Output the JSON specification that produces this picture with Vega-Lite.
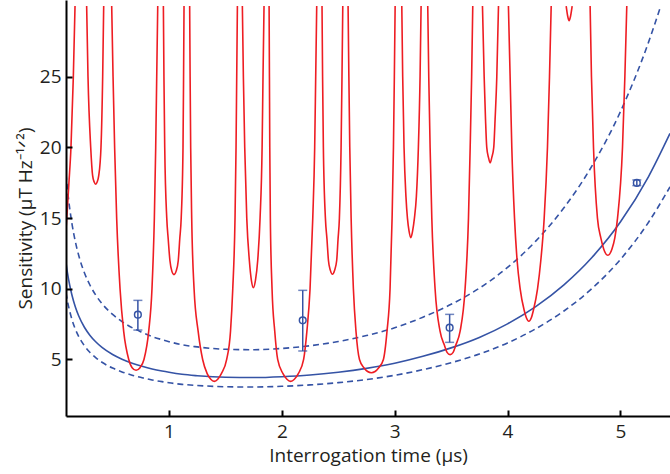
{
  "$schema": "https://vega.github.io/schema/vega-lite/v6.json",
  "width": 604,
  "height": 416,
  "autosize": {"type": "none"},
  "padding": {"left": 66, "top": 0, "right": 0, "bottom": 58},
  "background": "white",
  "config": {
    "view": {"stroke": null},
    "axis": {
      "grid": false,
      "domainColor": "black",
      "domainWidth": 2,
      "ticks": true,
      "tickColor": "black",
      "tickOpacity": 1,
      "tickWidth": 2,
      "tickSize": -6,
      "labelFont": "Open Sans",
      "labelFontSize": 19,
      "labelColor": "#231f20",
      "titleFont": "Open Sans",
      "titleFontSize": 19,
      "titleFontWeight": "normal",
      "titleColor": "#231f20"
    }
  },
  "datasets": {
    "red": [
      {"seg": 0, "t": 0.088, "s": 14.3}, {"seg": 0, "t": 0.098, "s": 15.5}, {"seg": 0, "t": 0.113, "s": 17.5}, {"seg": 0, "t": 0.131, "s": 20}, {"seg": 0, "t": 0.152, "s": 25}, {"seg": 0, "t": 0.167, "s": 30},
      {"seg": 1, "t": 0.270, "s": 30}, {"seg": 1, "t": 0.282, "s": 25}, {"seg": 1, "t": 0.306, "s": 20}, {"seg": 1, "t": 0.323, "s": 18}, {"seg": 1, "t": 0.337, "s": 17.55}, {"seg": 1, "t": 0.350, "s": 17.4}, {"seg": 1, "t": 0.363, "s": 17.55}, {"seg": 1, "t": 0.377, "s": 18}, {"seg": 1, "t": 0.397, "s": 20}, {"seg": 1, "t": 0.412, "s": 25}, {"seg": 1, "t": 0.421, "s": 30},
      {"seg": 2, "t": 0.492, "s": 30}, {"seg": 2, "t": 0.504, "s": 25}, {"seg": 2, "t": 0.518, "s": 20}, {"seg": 2, "t": 0.536, "s": 15}, {"seg": 2, "t": 0.566, "s": 10}, {"seg": 2, "t": 0.598, "s": 7}, {"seg": 2, "t": 0.643, "s": 5}, {"seg": 2, "t": 0.673, "s": 4.42}, {"seg": 2, "t": 0.708, "s": 4.24}, {"seg": 2, "t": 0.743, "s": 4.42}, {"seg": 2, "t": 0.778, "s": 5}, {"seg": 2, "t": 0.820, "s": 7}, {"seg": 2, "t": 0.849, "s": 10}, {"seg": 2, "t": 0.870, "s": 15}, {"seg": 2, "t": 0.882, "s": 20}, {"seg": 2, "t": 0.891, "s": 25}, {"seg": 2, "t": 0.900, "s": 30},
      {"seg": 3, "t": 0.950, "s": 30}, {"seg": 3, "t": 0.955, "s": 25}, {"seg": 3, "t": 0.962, "s": 20}, {"seg": 3, "t": 0.980, "s": 15}, {"seg": 3, "t": 0.993, "s": 13.5}, {"seg": 3, "t": 1.008, "s": 12}, {"seg": 3, "t": 1.025, "s": 11.25}, {"seg": 3, "t": 1.044, "s": 11.0}, {"seg": 3, "t": 1.063, "s": 11.25}, {"seg": 3, "t": 1.082, "s": 12}, {"seg": 3, "t": 1.095, "s": 13.5}, {"seg": 3, "t": 1.108, "s": 15}, {"seg": 3, "t": 1.124, "s": 20}, {"seg": 3, "t": 1.129, "s": 25}, {"seg": 3, "t": 1.133, "s": 30},
      {"seg": 4, "t": 1.183, "s": 30}, {"seg": 4, "t": 1.187, "s": 25}, {"seg": 4, "t": 1.192, "s": 20}, {"seg": 4, "t": 1.201, "s": 15}, {"seg": 4, "t": 1.222, "s": 10}, {"seg": 4, "t": 1.258, "s": 7}, {"seg": 4, "t": 1.298, "s": 5}, {"seg": 4, "t": 1.338, "s": 4.0}, {"seg": 4, "t": 1.370, "s": 3.6}, {"seg": 4, "t": 1.401, "s": 3.45}, {"seg": 4, "t": 1.432, "s": 3.6}, {"seg": 4, "t": 1.464, "s": 4.0}, {"seg": 4, "t": 1.511, "s": 5}, {"seg": 4, "t": 1.545, "s": 7}, {"seg": 4, "t": 1.565, "s": 10}, {"seg": 4, "t": 1.585, "s": 15}, {"seg": 4, "t": 1.594, "s": 20}, {"seg": 4, "t": 1.600, "s": 25}, {"seg": 4, "t": 1.606, "s": 30},
      {"seg": 5, "t": 1.650, "s": 30}, {"seg": 5, "t": 1.659, "s": 25}, {"seg": 5, "t": 1.671, "s": 20}, {"seg": 5, "t": 1.689, "s": 15}, {"seg": 5, "t": 1.712, "s": 12}, {"seg": 5, "t": 1.730, "s": 10.6}, {"seg": 5, "t": 1.748, "s": 10.08}, {"seg": 5, "t": 1.766, "s": 10.6}, {"seg": 5, "t": 1.786, "s": 12}, {"seg": 5, "t": 1.807, "s": 15}, {"seg": 5, "t": 1.825, "s": 20}, {"seg": 5, "t": 1.833, "s": 25}, {"seg": 5, "t": 1.842, "s": 30},
      {"seg": 6, "t": 1.887, "s": 30}, {"seg": 6, "t": 1.890, "s": 25}, {"seg": 6, "t": 1.893, "s": 20}, {"seg": 6, "t": 1.898, "s": 15}, {"seg": 6, "t": 1.913, "s": 10}, {"seg": 6, "t": 1.937, "s": 7}, {"seg": 6, "t": 1.963, "s": 5}, {"seg": 6, "t": 2.010, "s": 4.0}, {"seg": 6, "t": 2.045, "s": 3.6}, {"seg": 6, "t": 2.078, "s": 3.45}, {"seg": 6, "t": 2.111, "s": 3.6}, {"seg": 6, "t": 2.146, "s": 4.0}, {"seg": 6, "t": 2.193, "s": 5}, {"seg": 6, "t": 2.222, "s": 7}, {"seg": 6, "t": 2.250, "s": 10}, {"seg": 6, "t": 2.274, "s": 15}, {"seg": 6, "t": 2.291, "s": 20}, {"seg": 6, "t": 2.300, "s": 25}, {"seg": 6, "t": 2.309, "s": 30},
      {"seg": 7, "t": 2.356, "s": 30}, {"seg": 7, "t": 2.361, "s": 25}, {"seg": 7, "t": 2.368, "s": 20}, {"seg": 7, "t": 2.386, "s": 15}, {"seg": 7, "t": 2.400, "s": 13.5}, {"seg": 7, "t": 2.413, "s": 12}, {"seg": 7, "t": 2.430, "s": 11.3}, {"seg": 7, "t": 2.448, "s": 11.03}, {"seg": 7, "t": 2.467, "s": 11.3}, {"seg": 7, "t": 2.486, "s": 12}, {"seg": 7, "t": 2.498, "s": 13.5}, {"seg": 7, "t": 2.510, "s": 15}, {"seg": 7, "t": 2.525, "s": 20}, {"seg": 7, "t": 2.533, "s": 25}, {"seg": 7, "t": 2.540, "s": 30},
      {"seg": 8, "t": 2.587, "s": 30}, {"seg": 8, "t": 2.594, "s": 25}, {"seg": 8, "t": 2.602, "s": 20}, {"seg": 8, "t": 2.614, "s": 15}, {"seg": 8, "t": 2.634, "s": 10}, {"seg": 8, "t": 2.657, "s": 7}, {"seg": 8, "t": 2.688, "s": 5}, {"seg": 8, "t": 2.729, "s": 4.4}, {"seg": 8, "t": 2.760, "s": 4.15}, {"seg": 8, "t": 2.793, "s": 4.06}, {"seg": 8, "t": 2.826, "s": 4.15}, {"seg": 8, "t": 2.857, "s": 4.4}, {"seg": 8, "t": 2.900, "s": 5}, {"seg": 8, "t": 2.932, "s": 7}, {"seg": 8, "t": 2.959, "s": 10}, {"seg": 8, "t": 2.977, "s": 15}, {"seg": 8, "t": 2.989, "s": 20}, {"seg": 8, "t": 2.997, "s": 25}, {"seg": 8, "t": 3.004, "s": 30},
      {"seg": 9, "t": 3.063, "s": 30}, {"seg": 9, "t": 3.071, "s": 25}, {"seg": 9, "t": 3.083, "s": 20}, {"seg": 9, "t": 3.100, "s": 16.5}, {"seg": 9, "t": 3.113, "s": 15}, {"seg": 9, "t": 3.127, "s": 14.1}, {"seg": 9, "t": 3.143, "s": 13.62}, {"seg": 9, "t": 3.159, "s": 14.1}, {"seg": 9, "t": 3.175, "s": 15}, {"seg": 9, "t": 3.192, "s": 16.5}, {"seg": 9, "t": 3.210, "s": 20}, {"seg": 9, "t": 3.225, "s": 25}, {"seg": 9, "t": 3.234, "s": 30},
      {"seg": 10, "t": 3.293, "s": 30}, {"seg": 10, "t": 3.302, "s": 25}, {"seg": 10, "t": 3.314, "s": 20}, {"seg": 10, "t": 3.329, "s": 15}, {"seg": 10, "t": 3.358, "s": 10}, {"seg": 10, "t": 3.402, "s": 7}, {"seg": 10, "t": 3.441, "s": 6}, {"seg": 10, "t": 3.464, "s": 5.5}, {"seg": 10, "t": 3.491, "s": 5.34}, {"seg": 10, "t": 3.518, "s": 5.5}, {"seg": 10, "t": 3.541, "s": 6}, {"seg": 10, "t": 3.580, "s": 7}, {"seg": 10, "t": 3.624, "s": 10}, {"seg": 10, "t": 3.654, "s": 15}, {"seg": 10, "t": 3.669, "s": 20}, {"seg": 10, "t": 3.682, "s": 25}, {"seg": 10, "t": 3.692, "s": 30},
      {"seg": 11, "t": 3.778, "s": 30}, {"seg": 11, "t": 3.793, "s": 25}, {"seg": 11, "t": 3.805, "s": 22}, {"seg": 11, "t": 3.816, "s": 20}, {"seg": 11, "t": 3.831, "s": 19.3}, {"seg": 11, "t": 3.846, "s": 18.91}, {"seg": 11, "t": 3.861, "s": 19.3}, {"seg": 11, "t": 3.878, "s": 20}, {"seg": 11, "t": 3.890, "s": 22}, {"seg": 11, "t": 3.905, "s": 25}, {"seg": 11, "t": 3.920, "s": 30},
      {"seg": 12, "t": 4.008, "s": 30}, {"seg": 12, "t": 4.023, "s": 25}, {"seg": 12, "t": 4.038, "s": 20}, {"seg": 12, "t": 4.062, "s": 15}, {"seg": 12, "t": 4.085, "s": 12}, {"seg": 12, "t": 4.112, "s": 10}, {"seg": 12, "t": 4.147, "s": 8.5}, {"seg": 12, "t": 4.167, "s": 7.95}, {"seg": 12, "t": 4.189, "s": 7.70}, {"seg": 12, "t": 4.211, "s": 7.95}, {"seg": 12, "t": 4.230, "s": 8.5}, {"seg": 12, "t": 4.266, "s": 10}, {"seg": 12, "t": 4.295, "s": 12}, {"seg": 12, "t": 4.325, "s": 15}, {"seg": 12, "t": 4.354, "s": 20}, {"seg": 12, "t": 4.372, "s": 25}, {"seg": 12, "t": 4.387, "s": 30},
      {"seg": 13, "t": 4.520, "s": 30}, {"seg": 13, "t": 4.533, "s": 29.3}, {"seg": 13, "t": 4.546, "s": 28.97}, {"seg": 13, "t": 4.559, "s": 29.3}, {"seg": 13, "t": 4.573, "s": 30},
      {"seg": 14, "t": 4.732, "s": 30}, {"seg": 14, "t": 4.744, "s": 25}, {"seg": 14, "t": 4.762, "s": 20}, {"seg": 14, "t": 4.797, "s": 15}, {"seg": 14, "t": 4.827, "s": 13.6}, {"seg": 14, "t": 4.853, "s": 12.8}, {"seg": 14, "t": 4.889, "s": 12.37}, {"seg": 14, "t": 4.925, "s": 12.8}, {"seg": 14, "t": 4.951, "s": 13.6}, {"seg": 14, "t": 4.975, "s": 15}, {"seg": 14, "t": 5.019, "s": 20}, {"seg": 14, "t": 5.040, "s": 25}, {"seg": 14, "t": 5.057, "s": 30}
    ],
    "fit": [
      {"t": 0.087, "s": 11.86}, {"t": 0.1, "s": 11.13}, {"t": 0.12, "s": 10.25}, {"t": 0.14, "s": 9.54}, {"t": 0.17, "s": 8.71}, {"t": 0.2, "s": 8.07}, {"t": 0.25, "s": 7.28}, {"t": 0.3, "s": 6.70}, {"t": 0.35, "s": 6.25}, {"t": 0.406, "s": 5.85}, {"t": 0.5, "s": 5.35}, {"t": 0.583, "s": 5.02}, {"t": 0.68, "s": 4.72}, {"t": 0.761, "s": 4.52}, {"t": 0.85, "s": 4.33}, {"t": 0.938, "s": 4.18}, {"t": 1.0, "s": 4.09}, {"t": 1.115, "s": 3.95}, {"t": 1.25, "s": 3.85}, {"t": 1.5, "s": 3.74}, {"t": 1.75, "s": 3.72}, {"t": 2.0, "s": 3.78}, {"t": 2.25, "s": 3.90}, {"t": 2.5, "s": 4.10}, {"t": 2.75, "s": 4.37}, {"t": 3.0, "s": 4.73}, {"t": 3.25, "s": 5.22}, {"t": 3.5, "s": 5.82}, {"t": 3.75, "s": 6.56}, {"t": 4.0, "s": 7.52}, {"t": 4.25, "s": 8.74}, {"t": 4.5, "s": 10.28}, {"t": 4.75, "s": 12.23}, {"t": 5.0, "s": 14.72}, {"t": 5.25, "s": 17.94}, {"t": 5.44, "s": 20.99}
    ],
    "upper": [
      {"t": 0.087, "s": 18.15}, {"t": 0.1, "s": 17.03}, {"t": 0.12, "s": 15.68}, {"t": 0.14, "s": 14.60}, {"t": 0.17, "s": 13.33}, {"t": 0.2, "s": 12.35}, {"t": 0.25, "s": 11.14}, {"t": 0.3, "s": 10.25}, {"t": 0.35, "s": 9.56}, {"t": 0.406, "s": 8.95}, {"t": 0.5, "s": 8.19}, {"t": 0.583, "s": 7.68}, {"t": 0.68, "s": 7.22}, {"t": 0.761, "s": 6.92}, {"t": 0.85, "s": 6.62}, {"t": 0.938, "s": 6.40}, {"t": 1.0, "s": 6.26}, {"t": 1.115, "s": 6.04}, {"t": 1.25, "s": 5.89}, {"t": 1.5, "s": 5.72}, {"t": 1.75, "s": 5.69}, {"t": 2.0, "s": 5.78}, {"t": 2.25, "s": 5.97}, {"t": 2.5, "s": 6.27}, {"t": 2.75, "s": 6.69}, {"t": 3.0, "s": 7.24}, {"t": 3.25, "s": 7.99}, {"t": 3.5, "s": 8.90}, {"t": 3.75, "s": 10.04}, {"t": 4.0, "s": 11.51}, {"t": 4.25, "s": 13.37}, {"t": 4.5, "s": 15.73}, {"t": 4.75, "s": 18.71}, {"t": 5.0, "s": 22.52}, {"t": 5.25, "s": 27.45}, {"t": 5.358, "s": 30}
    ],
    "lower": [
      {"t": 0.087, "s": 9.73}, {"t": 0.1, "s": 9.13}, {"t": 0.12, "s": 8.41}, {"t": 0.14, "s": 7.82}, {"t": 0.17, "s": 7.14}, {"t": 0.2, "s": 6.62}, {"t": 0.25, "s": 5.97}, {"t": 0.3, "s": 5.49}, {"t": 0.35, "s": 5.13}, {"t": 0.406, "s": 4.80}, {"t": 0.5, "s": 4.39}, {"t": 0.583, "s": 4.12}, {"t": 0.68, "s": 3.87}, {"t": 0.761, "s": 3.71}, {"t": 0.85, "s": 3.55}, {"t": 0.938, "s": 3.43}, {"t": 1.0, "s": 3.35}, {"t": 1.115, "s": 3.24}, {"t": 1.25, "s": 3.16}, {"t": 1.5, "s": 3.07}, {"t": 1.75, "s": 3.05}, {"t": 2.0, "s": 3.10}, {"t": 2.25, "s": 3.20}, {"t": 2.5, "s": 3.36}, {"t": 2.75, "s": 3.58}, {"t": 3.0, "s": 3.88}, {"t": 3.25, "s": 4.28}, {"t": 3.5, "s": 4.77}, {"t": 3.75, "s": 5.38}, {"t": 4.0, "s": 6.17}, {"t": 4.25, "s": 7.17}, {"t": 4.5, "s": 8.43}, {"t": 4.75, "s": 10.03}, {"t": 5.0, "s": 12.07}, {"t": 5.25, "s": 14.71}, {"t": 5.44, "s": 17.21}
    ],
    "pts": [
      {"t": 0.724, "s": 8.17, "lo": 7.08, "hi": 9.18},
      {"t": 2.185, "s": 7.77, "lo": 5.60, "hi": 9.89},
      {"t": 3.487, "s": 7.25, "lo": 6.21, "hi": 8.19},
      {"t": 5.146, "s": 17.49, "lo": 17.3, "hi": 17.7}
    ]
  },
  "encoding": {
    "x": {
      "field": "t", "type": "quantitative",
      "scale": {"domain": [0.087, 5.44], "nice": false, "zero": false},
      "axis": {"values": [1, 2, 3, 4, 5], "title": "Interrogation time (μs)", "tickSize": -6, "labelPadding": 12, "titlePadding": 5, "zindex": 1}
    },
    "y": {
      "field": "s", "type": "quantitative",
      "scale": {"domain": [1, 30.43], "nice": false, "zero": false},
      "axis": {"values": [5, 10, 15, 20, 25], "title": "Sensitivity (μT Hz⁻¹ᐟ²)", "tickSize": -6, "labelPadding": 11, "titlePadding": 4, "titleY": 218, "zindex": 1}
    }
  },
  "layer": [
    {
      "data": {"name": "upper"},
      "mark": {"type": "line", "color": "#3553a5", "strokeWidth": 1.6, "strokeDash": [6, 4], "interpolate": "monotone", "clip": true}
    },
    {
      "data": {"name": "lower"},
      "mark": {"type": "line", "color": "#3553a5", "strokeWidth": 1.6, "strokeDash": [6, 4], "interpolate": "monotone", "clip": true}
    },
    {
      "data": {"name": "fit"},
      "mark": {"type": "line", "color": "#3553a5", "strokeWidth": 1.6, "interpolate": "monotone", "clip": true}
    },
    {
      "data": {"name": "red"},
      "mark": {"type": "line", "color": "#ee1d23", "strokeWidth": 1.6, "interpolate": "monotone", "clip": true},
      "encoding": {"detail": {"field": "seg", "type": "nominal"}}
    },
    {
      "data": {"name": "pts"},
      "mark": {"type": "rule", "color": "#3553a5", "strokeWidth": 1.5},
      "encoding": {"y": {"field": "lo", "type": "quantitative"}, "y2": {"field": "hi"}}
    },
    {
      "data": {"name": "pts"},
      "mark": {"type": "tick", "orient": "horizontal", "color": "#3553a5", "thickness": 1.5, "size": 9},
      "encoding": {"y": {"field": "lo", "type": "quantitative"}}
    },
    {
      "data": {"name": "pts"},
      "mark": {"type": "tick", "orient": "horizontal", "color": "#3553a5", "thickness": 1.5, "size": 9},
      "encoding": {"y": {"field": "hi", "type": "quantitative"}}
    },
    {
      "data": {"name": "pts"},
      "mark": {"type": "point", "shape": "circle", "filled": false, "color": "#3553a5", "strokeWidth": 1.5, "size": 45, "opacity": 1}
    }
  ]
}
